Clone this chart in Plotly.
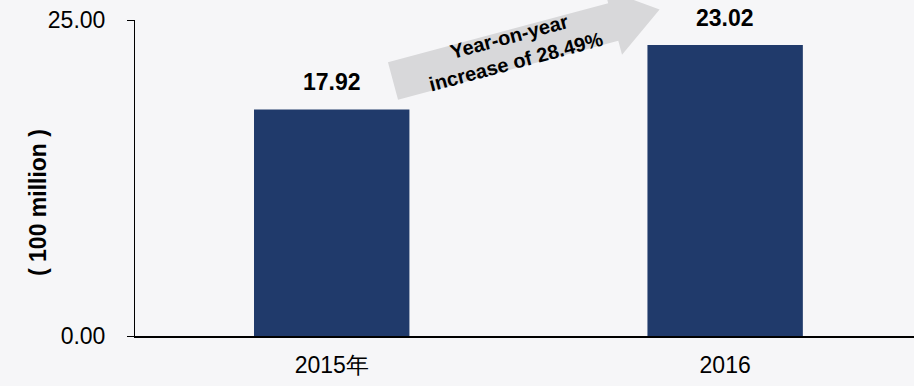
import math
import plotly.graph_objects as go

# ---- data ----
categories = ["2015年", "2016"]
values = [17.92, 23.02]
value_labels = ["17.92", "23.02"]
y_ticks = [0, 25]
y_tick_labels = ["0.00", "25.00"]
axis_title = "( 100 million )"
arrow_text = "Year-on-year<br>increase of 28.49%"

# ---- layout geometry (pixels) ----
W, H = 914, 386
ML, MR, MT, MB = 135, 0, 20, 50
PW, PH = W - ML - MR, H - MT - MB
FONT = "Arial, Liberation Sans, sans-serif"
BAR = "#203a6b"
BG = "#f6f6f8"


def to_paper(px, py):
    return (px - ML) / PW, (H - MB - py) / PH


fig = go.Figure()
fig.add_trace(go.Bar(
    x=categories, y=values, width=0.395,
    marker=dict(color=BAR, line=dict(width=0)),
    hoverinfo="skip",
))

# value labels above bars (category index positions)
for i, (v, t) in enumerate(zip(values, value_labels)):
    fig.add_annotation(x=i, y=v, xref="x", yref="y", text=f"<b>{t}</b>",
                       showarrow=False, xanchor="center", yanchor="bottom", yshift=12,
                       font=dict(family=FONT, size=23, color="#000000"))

# y axis title
tx, ty = to_paper(38, 203)
fig.add_annotation(x=tx, y=ty, xref="paper", yref="paper", text=f"<b>{axis_title}</b>",
                   textangle=-90, showarrow=False, xanchor="center", yanchor="middle",
                   font=dict(family=FONT, size=23, color="#000000"))

# decorative growth arrow (pixel geometry converted to paper)
ang = math.radians(15)
ux, uy = math.cos(ang), -math.sin(ang)
nx, ny = math.sin(ang), math.cos(ang)
ox, oy = 393, 81
half, barb, base, tip = 19.5, 34, 228, 276


def P(a, n):
    return to_paper(ox + a * ux + n * nx, oy + a * uy + n * ny)


pts = [P(0, -half), P(base, -half), P(base, -barb), P(tip, 0),
       P(base, barb), P(base, half), P(0, half)]
path = "M " + " L ".join(f"{x:.5f},{y:.5f}" for x, y in pts) + " Z"
fig.add_shape(type="path", path=path, xref="paper", yref="paper",
              fillcolor="#d8d8da", line=dict(width=0), layer="above")

ax_, ay_ = P(124, 0)
fig.add_annotation(x=ax_, y=ay_, xref="paper", yref="paper",
                   text=f"<b>{arrow_text}</b>", textangle=-15, showarrow=False,
                   xanchor="center", yanchor="middle",
                   font=dict(family=FONT, size=20, color="#000000"))

fig.update_layout(
    width=W, height=H,
    margin=dict(l=ML, r=MR, t=MT, b=MB, pad=0),
    paper_bgcolor=BG, plot_bgcolor=BG,
    showlegend=False,
    font=dict(family=FONT, size=22, color="#000000"),
    xaxis=dict(type="category", range=[-0.5, 1.48], showgrid=False, zeroline=False,
               showline=True, linecolor="#000000", linewidth=2,
               ticks="", ticklabelstandoff=7,
               tickfont=dict(family=FONT, size=23, color="#000000")),
    yaxis=dict(range=[0, 25], tickvals=y_ticks, ticktext=y_tick_labels,
               showgrid=False, zeroline=False,
               showline=True, linecolor="#000000", linewidth=1,
               ticks="outside", ticklen=7, tickcolor="#000000", tickwidth=1,
               ticklabelstandoff=17,
               tickfont=dict(family=FONT, size=23, color="#000000")),
)

fig.write_html("out.html")
